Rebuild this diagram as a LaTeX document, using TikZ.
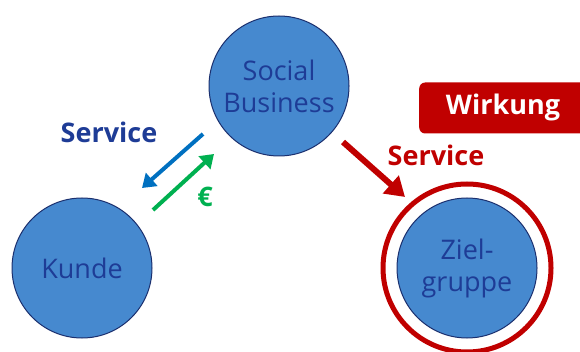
\documentclass[tikz,border=0pt]{standalone}
\usepackage{fontspec}
\setmainfont{Open Sans}
\usetikzlibrary{arrows.meta}

\definecolor{sbfill}{HTML}{4689CF}
\definecolor{sbline}{HTML}{1B2F6E}
\definecolor{sbtext}{HTML}{1E3C96}
\definecolor{sbred}{HTML}{C00000}
\definecolor{sbblue}{HTML}{0070C0}
\definecolor{sbgreen}{HTML}{00B050}

\tikzset{
  party/.style={circle, draw=sbline, fill=sbfill, line width=1pt, minimum size=140pt,
    inner sep=0pt, align=center, text=sbtext, font=\fontsize{27}{32}\selectfont},
  flowlabel/.style={font=\bfseries\fontsize{27}{32}\selectfont},
}

\begin{document}
\begin{tikzpicture}[x=1pt, y=-1pt]
\useasboundingbox (0,0) rectangle (580,352);

% the three parties
\node[party] (business) at (279,86) {Social\\Business};
\node[party] (kunde) at (82,268) {Kunde};
\node[party] (ziel) at (467,268) {Ziel-\\gruppe};
\draw[sbred, line width=5pt] (ziel.center) circle (84);

% Wirkung box
\begin{scope}
\clip (0,0) rectangle (580,352);
\node[fill=sbred, rounded corners=6pt, minimum width=172pt, minimum height=51pt,
  anchor=west] (wirkung) at (419,108) {};
\end{scope}
\node[text=white, flowlabel] at (503,107) {Wirkung};

% service and payment between Kunde and Social Business
\coordinate (blueA) at (203,134);
\coordinate (blueB) at (142,188);
\coordinate (greenA) at (153,210);
\coordinate (greenB) at (214,154);
\draw[sbblue, line width=4pt, -{Triangle[length=13pt, width=17pt]}] (blueA) -- (blueB);
\draw[sbgreen, line width=4pt, -{Triangle[length=13pt, width=17pt]}] (greenA) -- (greenB);
\node[text=sbtext, flowlabel] (servA) at (109,132) {Service};
\node[text=sbgreen, flowlabel] (euro) at (205,197) {€};

% service to Zielgruppe
\coordinate (redA) at (343,142);
\coordinate (redB) at (405,197);
\draw[sbred, line width=6pt, -{Triangle[length=19pt, width=23pt]}] (redA) -- (redB);
\node[text=sbred, flowlabel] (servB) at (436,155) {Service};
\end{tikzpicture}
\end{document}
